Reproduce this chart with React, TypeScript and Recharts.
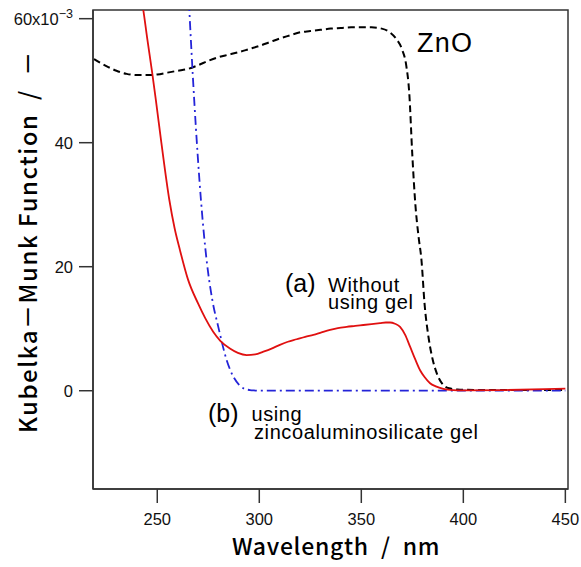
import React from 'react';
import { LineChart, Line, XAxis, YAxis, ReferenceArea } from 'recharts';

const xTicks = [250, 300, 350, 400, 450];
const yTicks = [0, 20, 40, 60];
const xDomain: [number, number] = [218.5, 451.3];
const yDomain: [number, number] = [-15.85, 61.4];

// ZnO (black dashed)
const znoWavelength = [219, 222, 226, 230, 235, 240, 245, 250, 255, 260, 265, 270, 275, 280, 285, 290, 295, 300, 305, 310, 315, 320, 325, 330, 335, 340, 345, 350, 355, 360, 364, 367, 370, 372, 373.5, 375, 376.5, 378, 379.5, 381, 383, 385, 387, 390, 393, 397, 400, 420, 450];
const znoKM = [53.5, 52.9, 52.2, 51.6, 51.1, 50.9, 50.9, 51.0, 51.3, 51.6, 51.9, 52.5, 53.2, 53.8, 54.2, 54.6, 55.1, 55.6, 56.2, 56.8, 57.3, 57.8, 58.0, 58.2, 58.4, 58.5, 58.6, 58.6, 58.6, 58.4, 57.8, 56.8, 55.0, 52.5, 48.0, 38.0, 30.0, 25.0, 21.0, 14.0, 8.5, 5.0, 2.8, 1.0, 0.4, 0.2, 0.15, 0.1, 0.1];

// (a) Without using gel (red solid)
const withoutGelWavelength = [242.5, 243.1, 245, 247.5, 249.3, 252, 255.9, 258.5, 261.1, 265, 270.1, 273.5, 277.4, 281, 285.6, 289.5, 293.8, 298, 302, 306, 310.1, 314, 318.3, 322.5, 326.5, 330.5, 334.7, 338.5, 342.8, 347, 351, 355, 359.2, 362, 364.1, 366.5, 369, 371.5, 373.9, 376.5, 378.8, 381, 383.7, 386.5, 390.2, 395, 400, 420, 440, 450];
const withoutGelKM = [62.7, 61.5, 57.0, 51.3, 46.9, 40.0, 30.8, 26.2, 22.7, 18.0, 14.0, 11.7, 9.5, 8.0, 6.8, 6.1, 5.75, 5.85, 6.3, 6.8, 7.4, 7.9, 8.3, 8.7, 9.0, 9.4, 9.8, 10.1, 10.3, 10.45, 10.6, 10.75, 10.9, 11.0, 11.0, 10.8, 10.3, 9.0, 7.1, 5.0, 3.3, 2.2, 1.2, 0.7, 0.3, 0.1, 0.05, 0.1, 0.25, 0.35];

// (b) using zincoaluminosilicate gel (blue dash-dot)
const withGelWavelength = [265.5, 268.1, 271.4, 274.2, 277.0, 279.9, 284, 287.3, 290, 292.2, 295.4, 298, 300, 350, 400, 450];
const withGelKM = [62.7, 46.9, 30.8, 21.0, 14.6, 10.3, 4.95, 2.26, 1.0, 0.4, 0.1, 0.03, 0, 0, 0, 0];

const toPoints = (xs: number[], ys: number[]) => xs.map((x, i) => ({ wl: x, km: ys[i] }));
const znoData = toPoints(znoWavelength, znoKM);
const withoutGelData = toPoints(withoutGelWavelength, withoutGelKM);
const withGelData = toPoints(withGelWavelength, withGelKM);

const tickFont = '"Liberation Sans", Arial, sans-serif';
const titleFont = '"Noto Sans CJK JP", "Noto Sans", sans-serif';
const axisColor = '#333';

const YTick = (props: any) => {
  const { x, y, payload } = props;
  if (payload.value === 60) {
    return (
      <text x={x} y={y} dy="0.355em" textAnchor="end" fontSize={16.5} fontFamily={tickFont} fill="#111">
        60x10<tspan fontSize={12.5} dy={-7}>−3</tspan>
      </text>
    );
  }
  return (
    <text x={x} y={y} dy="0.355em" textAnchor="end" fontSize={16.5} fontFamily={tickFont} fill="#111">
      {payload.value}
    </text>
  );
};

export default function App() {
  return (
    <div style={{ position: 'absolute', left: 0, top: 0, background: '#fff' }}>
      <LineChart width={581} height={567} margin={{ top: 10, right: 13, bottom: 0, left: 0 }}>
        <XAxis
          dataKey="wl"
          type="number"
          domain={xDomain}
          ticks={xTicks}
          allowDataOverflow
          tickSize={14}
          tickMargin={10}
          height={78}
          stroke={axisColor}
          strokeWidth={1.5}
          tick={{ fontSize: 16.5, fontFamily: tickFont, fill: '#111' }}
        />
        <YAxis
          dataKey="km"
          type="number"
          domain={yDomain}
          ticks={yTicks}
          allowDataOverflow
          tickSize={14}
          tickMargin={6}
          width={93}
          stroke={axisColor}
          strokeWidth={1.5}
          tick={<YTick />}
        />
        <ReferenceArea
          x1={xDomain[0]}
          x2={xDomain[1]}
          y1={yDomain[0]}
          y2={yDomain[1]}
          fill="none"
          stroke={axisColor}
          strokeWidth={1.5}
          ifOverflow="visible"
        />
        <Line
          data={znoData}
          dataKey="km"
          type="monotone"
          stroke="#000"
          strokeWidth={2}
          strokeDasharray="7 4"
          dot={false}
          isAnimationActive={false}
        />
        <Line
          data={withGelData}
          dataKey="km"
          type="monotone"
          stroke="#2424d8"
          strokeWidth={1.8}
          strokeDasharray="9 4 2 4"
          dot={false}
          isAnimationActive={false}
        />
        <Line
          data={withoutGelData}
          dataKey="km"
          type="monotone"
          stroke="#e01010"
          strokeWidth={1.8}
          dot={false}
          isAnimationActive={false}
        />
        <text x={417} y={52} fontSize={27} letterSpacing={1.2} fontFamily={tickFont} fill="#000">ZnO</text>
        <text x={285} y={292} fontSize={25} fontFamily={tickFont} fill="#000">(a)</text>
        <text x={328} y={292} fontSize={20} letterSpacing={0.6} fontFamily={tickFont} fill="#000">Without</text>
        <text x={328} y={309} fontSize={20} letterSpacing={0.6} fontFamily={tickFont} fill="#000">using gel</text>
        <text x={208} y={422} fontSize={25} fontFamily={tickFont} fill="#000">(b)</text>
        <text x={251.5} y={421} fontSize={20} letterSpacing={0.6} fontFamily={tickFont} fill="#000">using</text>
        <text x={254} y={438.5} fontSize={20} letterSpacing={0.6} fontFamily={tickFont} fill="#000">zincoaluminosilicate gel</text>
        <text x={232} y={555} textAnchor="start" fontSize={23} letterSpacing={0.7} fontWeight={500} fontFamily={titleFont} fill="#000">{'Wavelength\u2002/\u2002nm'}</text>
        <text transform="translate(37,433) rotate(-90)" textAnchor="start" fontSize={24} letterSpacing={1.5} fontWeight={500} fontFamily={titleFont} fill="#000">{'Kubelka－Munk Function\u2002/\u2002－'}</text>
      </LineChart>
    </div>
  );
}
